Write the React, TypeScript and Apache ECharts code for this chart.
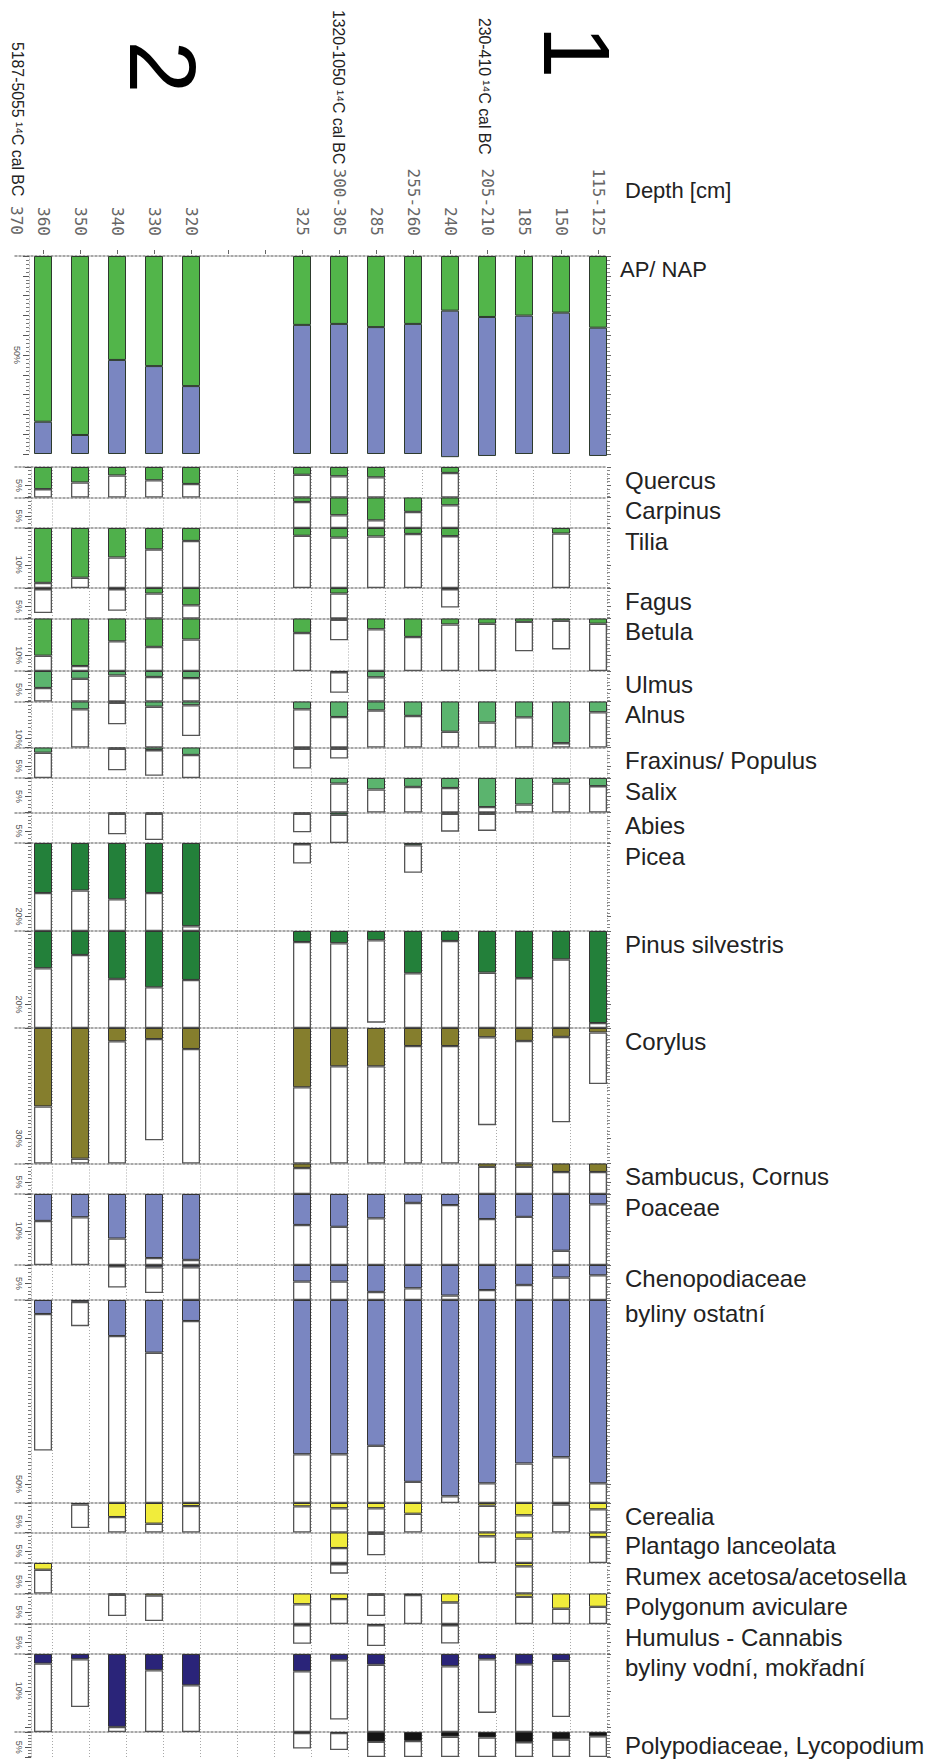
import React, { useEffect, useRef } from 'react';
import * as echarts from 'echarts';

// ---------- data ----------
const DEPTHS = ['360', '350', '340', '330', '320', '', '', '325', '300-305', '285', '255-260', '240', '205-210', '185', '150', '115-125'];
const F = 999; // exaggeration box reaching the bottom of its row
const _ = null;

const AP = [83.7, 90.4, 52.5, 55.6, 65.7, _, _, 34.8, 34.3, 35.9, 34.3, 27.6, 30.8, 30.1, 28.6, 36.2];
const NAP = [16.3, 9.6, 47.5, 44.4, 34.3, _, _, 65.2, 65.7, 64.1, 65.7, 74.0, 70.2, 69.9, 71.4, 64.8];

const QUERCUS = [6.0, 4.2, 2.3, 3.6, 4.6, _, _, 2.1, 2.5, 2.8, _, 1.6, _, _, _, _];
const QUERCUS_X = [F, F, F, F, F, _, _, F, F, F, _, F, _, _, _, _];
const CARPINUS = [_, _, _, _, _, _, _, 1.2, 4.8, 6.2, 3.9, 2.1, _, _, _, _];
const CARPINUS_X = [_, _, _, _, _, _, _, F, F, F, F, F, _, _, _, _];
const TILIA = [14.9, 13.5, 8.0, 5.8, 3.5, _, _, 2.1, 2.6, 2.3, 1.6, 2.2, _, _, 1.5, _];
const TILIA_X = [F, F, F, F, F, _, _, F, F, F, F, F, _, _, F, _];
const FAGUS = [0.3, _, 0.3, 1.5, 4.7, _, _, _, 1.5, _, _, 0.3, _, _, _, _];
const FAGUS_X = [6.8, _, 6.2, F, F, _, _, _, F, _, _, 5.3, _, _, _, _];
const BETULA = [10.1, 12.9, 6.2, 7.7, 5.7, _, _, 3.9, 0.3, 2.9, 5.0, 1.6, 1.4, 0.9, 0.6, 1.4];
const BETULA_X = [F, F, F, F, F, _, _, F, 5.9, F, F, F, F, 8.9, 8.4, F];
const ULMUS = [4.6, 2.1, 1.2, 1.6, 1.9, _, _, _, 0.3, 1.7, _, _, _, _, _, _];
const ULMUS_X = [F, F, F, F, F, _, _, _, 5.9, F, _, _, _, _, _, _];
const ALNUS = [_, 2.1, 0.3, 1.4, 1.0, _, _, 2.1, 4.2, 2.4, 3.9, 8.2, 5.7, 4.3, 11.3, 2.9];
const ALNUS_X = [_, F, 6.2, F, 9.4, _, _, F, F, F, F, F, F, F, F, F];
const FRAXINUS = [1.4, _, 0.3, 0.7, 2.0, _, _, 0.3, 0.3, _, _, _, _, _, _, _];
const FRAXINUS_X = [F, _, 6.2, 7.7, F, _, _, 5.7, 3.0, _, _, _, _, _, _, _];
const SALIX = [_, _, _, _, _, _, _, _, 1.5, 3.1, 2.4, 2.7, 7.9, 7.2, 1.5, 2.2];
const SALIX_X = [_, _, _, _, _, _, _, _, F, F, F, F, F, F, F, F];
const ABIES = [_, _, 0.3, 0.3, _, _, _, 0.3, 0.6, _, _, 0.3, 0.3, _, _, _];
const ABIES_X = [_, _, 5.9, 7.5, _, _, _, 5.4, 10.9, _, _, 5.2, 5.0, _, _, _];
const PICEA = [13.6, 12.9, 15.3, 13.6, 22.6, _, _, 0.3, _, _, 0.6, _, _, _, _, _];
const PICEA_X = [F, F, F, F, F, _, _, 5.6, _, _, 8.1, _, _, _, _, _];
const PINUS = [10.1, 6.5, 13.0, 15.3, 13.3, _, _, 3.0, 3.3, 2.5, 11.5, 2.7, 11.3, 12.8, 7.7, 25.0];
const PINUS_X = [F, F, F, F, F, _, _, F, F, 24.9, F, F, F, F, F, F];
const CORYLUS = [21.3, 35.5, 3.6, 3.0, 5.7, _, _, 16.1, 10.4, 10.4, 4.9, 4.9, 2.5, 3.5, 2.4, 1.2];
const CORYLUS_X = [F, F, F, 30.5, F, _, _, F, F, F, F, F, 26.4, F, 25.6, 15.2];
const SAMBUCUS = [_, _, _, _, _, _, _, 1.2, _, _, _, _, 0.9, 0.9, 2.3, 2.3];
const SAMBUCUS_X = [_, _, _, _, _, _, _, F, _, _, _, _, F, F, F, F];
const POACEAE = [7.3, 6.3, 12.1, 17.4, 17.9, _, _, 8.4, 8.9, 6.6, 2.4, 3.0, 6.8, 6.2, 15.4, 2.8];
const POACEAE_X = [F, F, F, F, F, _, _, F, F, F, F, F, F, F, F, F];
const CHENO = [_, _, 0.3, 0.6, 0.6, _, _, 4.5, 4.5, 7.3, 6.3, 8.3, 6.8, 5.4, 3.4, 2.8];
const CHENO_X = [_, _, 6.1, 7.6, F, _, _, F, F, F, F, F, F, F, F, F];
const BYLINY = [3.8, 0.5, 9.8, 14.3, 5.7, _, _, 41.9, 41.9, 39.6, 49.4, 53.3, 49.8, 44.4, 42.7, 49.8];
const BYLINY_X = [40.9, 7.1, F, F, F, _, _, F, F, F, F, F, F, F, F, F];
const CEREALIA = [_, 0.4, 3.8, 5.6, 0.8, _, _, 0.9, 1.4, 1.4, 2.9, _, 0.7, 3.3, 0.4, 1.7];
const CEREALIA_X = [_, 6.8, F, F, F, _, _, F, F, F, F, _, F, F, F, F];
const PLANTAGO = [_, _, _, _, _, _, _, _, 4.2, 0.3, _, _, 1.0, 1.6, _, 1.2];
const PLANTAGO_X = [_, _, _, _, _, _, _, _, F, 6.2, _, _, F, F, _, F];
const RUMEX = [1.8, _, _, _, _, _, _, _, 0.3, _, _, _, _, 0.9, _, _];
const RUMEX_X = [F, _, _, _, _, _, _, _, 2.9, _, _, _, _, F, _, _];
const POLYGONUM = [_, _, 0.3, 0.5, _, _, _, 2.9, 1.5, 0.3, 0.4, 2.4, _, 0.9, 4.1, 3.6];
const POLYGONUM_X = [_, _, 6.1, 7.5, _, _, _, F, F, 6.1, F, F, _, F, F, F];
const HUMULUS = [_, _, _, _, _, _, _, 0.3, _, 0.3, _, 0.3, _, _, _, _];
const HUMULUS_X = [_, _, _, _, _, _, _, 5.4, _, 6.0, _, 5.3, _, _, _, _];
const VODNI = [2.6, 1.4, 19.8, 4.4, 8.5, _, _, 4.7, 1.7, 2.9, _, 3.3, 1.4, 2.8, 1.8, _];
const VODNI_X = [F, 14.4, F, F, F, _, _, F, 17.8, F, _, F, 16.0, F, 17.1, _];
const POLYPOD = [_, _, _, _, _, _, _, 0.3, 0.3, 3.2, 2.9, 1.5, 1.8, 3.3, 2.4, 1.4];
const POLYPOD_X = [_, _, _, _, _, _, _, 5.4, 5.9, F, F, F, F, F, F, F];

// ---------- layout / style ----------
const C_GREEN = '#4fb04b';
const C_LGREEN = '#5bb46e';
const C_DGREEN = '#23803a';
const C_OLIVE = '#857e2d';
const C_BLUE = '#7a86c1';
const C_YELLOW = '#f1ec3b';
const C_NAVY = '#2a2479';
const C_BLACK = '#141414';

const ROWS = [
  { label: 'Quercus', v: QUERCUS, x: QUERCUS_X, color: C_GREEN, h: 30.5, tick: 5 },
  { label: 'Carpinus', v: CARPINUS, x: CARPINUS_X, color: C_GREEN, h: 30.5, tick: 5 },
  { label: 'Tilia', v: TILIA, x: TILIA_X, color: C_GREEN, h: 60, tick: 10 },
  { label: 'Fagus', v: FAGUS, x: FAGUS_X, color: C_GREEN, h: 30.5, tick: 5 },
  { label: 'Betula', v: BETULA, x: BETULA_X, color: C_GREEN, h: 52.5, tick: 10 },
  { label: 'Ulmus', v: ULMUS, x: ULMUS_X, color: C_LGREEN, h: 30.5, tick: 5 },
  { label: 'Alnus', v: ALNUS, x: ALNUS_X, color: C_LGREEN, h: 46, tick: 10 },
  { label: 'Fraxinus/ Populus', v: FRAXINUS, x: FRAXINUS_X, color: C_LGREEN, h: 30.5, tick: 5 },
  { label: 'Salix', v: SALIX, x: SALIX_X, color: C_LGREEN, h: 34.5, tick: 5 },
  { label: 'Abies', v: ABIES, x: ABIES_X, color: C_DGREEN, h: 30.5, tick: 5 },
  { label: 'Picea', v: PICEA, x: PICEA_X, color: C_DGREEN, h: 88, tick: 20 },
  { label: 'Pinus silvestris', v: PINUS, x: PINUS_X, color: C_DGREEN, h: 97, tick: 20 },
  { label: 'Corylus', v: CORYLUS, x: CORYLUS_X, color: C_OLIVE, h: 135.5, tick: 30 },
  { label: 'Sambucus, Cornus', v: SAMBUCUS, x: SAMBUCUS_X, color: C_OLIVE, h: 30.5, tick: 5 },
  { label: 'Poaceae', v: POACEAE, x: POACEAE_X, color: C_BLUE, h: 71, tick: 10 },
  { label: 'Chenopodiaceae', v: CHENO, x: CHENO_X, color: C_BLUE, h: 35, tick: 5 },
  { label: 'byliny ostatní', v: BYLINY, x: BYLINY_X, color: C_BLUE, h: 203, tick: 50 },
  { label: 'Cerealia', v: CEREALIA, x: CEREALIA_X, color: C_YELLOW, h: 29.5, tick: 5 },
  { label: 'Plantago lanceolata', v: PLANTAGO, x: PLANTAGO_X, color: C_YELLOW, h: 30.5, tick: 5 },
  { label: 'Rumex acetosa/acetosella', v: RUMEX, x: RUMEX_X, color: C_YELLOW, h: 30.5, tick: 5 },
  { label: 'Polygonum aviculare', v: POLYGONUM, x: POLYGONUM_X, color: C_YELLOW, h: 30.5, tick: 5 },
  { label: 'Humulus - Cannabis', v: HUMULUS, x: HUMULUS_X, color: '#333333', h: 30, tick: 5 },
  { label: 'byliny vodní, mokřadní', v: VODNI, x: VODNI_X, color: C_NAVY, h: 78, tick: 10 },
  { label: 'Polypodiaceae, Lycopodium', v: POLYPOD, x: POLYPOD_X, color: C_BLACK, h: 30, tick: 5 },
];

const PX = 3.68; // pixels per percent in taxon rows
const GRID_LEFT = 15;
const GRID_RIGHT = 943 - 607;
const AP_TOP = 256;
const AP_H = 198;
const ROW_START = 467;
const LABEL_X = 625;
const CATS = ['', ...DEPTHS];
const SANS = '"Liberation Sans", Arial, Helvetica, sans-serif';
const MONO = '"DejaVu Sans Mono", monospace';

function buildOption() {
  const grid: any[] = [];
  const xAxis: any[] = [];
  const yAxis: any[] = [];
  const series: any[] = [];
  const graphic: any[] = [];

  // header grid (depth labels)
  grid.push({ left: 43, right: 943 - 598, top: 253, height: 1 });
  xAxis.push({
    gridIndex: 0, type: 'category', data: DEPTHS, boundaryGap: false, position: 'top',
    axisLine: { show: false },
    axisTick: { show: true, length: 4, interval: 0, lineStyle: { color: '#666' } },
    axisLabel: { interval: 0, rotate: -90, margin: 17, fontSize: 16, fontFamily: MONO, color: '#666' },
    splitLine: { show: false },
  });
  yAxis.push({ gridIndex: 0, type: 'value', show: false });

  const dividerLine = { show: true, lineStyle: { color: '#8c8c8c', width: 1.5, type: [2, 2] } };
  const vLine = { show: true, interval: (i: number) => i > 0, lineStyle: { color: '#a8a8a8', width: 1, type: [1, 2] } };

  const addRow = (g: number, top: number, h: number, max: number, tick: number, labelAt: number, minorSplit: number, withSplit: boolean, offsetL: number) => {
    grid.push({ left: GRID_LEFT, right: GRID_RIGHT, top, height: h });
    xAxis.push({
      gridIndex: g, type: 'category', data: CATS, boundaryGap: false, position: 'top',
      axisLine: dividerLine, axisTick: { show: false }, axisLabel: { show: false },
      splitLine: withSplit ? vLine : { show: false },
    });
    yAxis.push({
      gridIndex: g, type: 'value', inverse: true, min: 0, max, interval: tick, position: 'left', offset: offsetL,
      axisLine: { show: true, lineStyle: { color: '#b0b0b0', type: [1, 2] } },
      axisTick: { show: true, length: 6, lineStyle: { color: '#555' } },
      minorTick: { show: true, splitNumber: minorSplit, length: 3, lineStyle: { color: '#777' } },
      axisLabel: {
        formatter: (val: number) => (Math.abs(val - labelAt) < 1e-6 ? `${val}%` : ''),
        rotate: -90, fontSize: 9, color: '#555', margin: 8, fontFamily: SANS,
      },
      splitLine: { show: false },
    });
    yAxis.push({
      gridIndex: g, type: 'value', inverse: true, min: 0, max, interval: tick, position: 'right',
      axisLine: { show: false },
      axisTick: { show: true, length: 4, lineStyle: { color: '#666' } },
      minorTick: { show: true, splitNumber: minorSplit, length: 3, lineStyle: { color: '#888' } },
      axisLabel: { show: false },
      splitLine: { show: false },
    });
  };

  const barBase = (g: number, yi: number) => ({
    type: 'bar', xAxisIndex: g, yAxisIndex: yi, barWidth: 18, barGap: '0%', clip: false, silent: true,
  });

  // AP / NAP row
  let g = 1;
  let yi = 1;
  addRow(g, AP_TOP, AP_H, 100, 10, 50, 5, false, -14);
  series.push({ ...barBase(g, yi), name: 'AP', stack: 'ap', data: [null, ...AP], itemStyle: { color: '#52b54a', borderColor: '#2d3a2d', borderWidth: 1 } });
  series.push({ ...barBase(g, yi), name: 'NAP', stack: 'ap', data: [null, ...NAP], itemStyle: { color: C_BLUE, borderColor: '#2d3a2d', borderWidth: 1 } });
  series.push({ ...barBase(g, yi), name: 'ap-pad', stack: 'ap-pad', data: CATS.map(() => null) });
  graphic.push({ type: 'text', x: 620, y: AP_TOP + 13, style: { text: 'AP/ NAP', fontSize: 22, fontFamily: SANS, fill: '#222', verticalAlign: 'middle' } });

  // taxon rows
  let top = ROW_START;
  ROWS.forEach((r, i) => {
    g = i + 2;
    yi = 1 + (i + 1) * 2;
    const max = r.h / PX;
    addRow(g, top, r.h, max, r.tick, r.tick, r.tick, true, -16);
    const whites = r.x.map((e, j) => (e == null ? null : Math.min(e, max) - (r.v[j] ?? 0)));
    series.push({ ...barBase(g, yi), name: r.label, stack: 's' + g, data: [null, ...r.v], itemStyle: { color: r.color, borderColor: '#333', borderWidth: 1 } });
    series.push({ ...barBase(g, yi), name: r.label + ' x', stack: 's' + g, data: [null, ...whites], itemStyle: { color: '#ffffff', borderColor: '#555', borderWidth: 1.3 } });
    series.push({ ...barBase(g, yi), name: r.label + ' pad', stack: 'p' + g, data: CATS.map(() => null) });
    graphic.push({ type: 'text', x: LABEL_X, y: top + 13, style: { text: r.label, fontSize: 24, fontFamily: SANS, fill: '#222', verticalAlign: 'middle' } });
    top += r.h;
  });

  // header texts (rotated clockwise, reading top to bottom)
  const dateText = (x: number, y: number, range: string) => ({
    type: 'text', x, y, rotation: -Math.PI / 2,
    style: { text: `${range} ¹⁴C cal BC`, fontSize: 15.8, fontFamily: SANS, fill: '#222', align: 'left', verticalAlign: 'middle' },
  });
  graphic.push(dateText(17, 42, '5187-5055'));
  graphic.push(dateText(338, 10, '1320-1050'));
  graphic.push(dateText(484, 18, '230-410'));
  graphic.push({
    type: 'text', x: 16, y: 235, rotation: -Math.PI / 2,
    style: { text: '370', fontSize: 16, fontFamily: MONO, fill: '#666', align: 'right', verticalAlign: 'middle' },
  });
  graphic.push({
    type: 'text', x: 163, y: 67, rotation: -Math.PI / 2,
    style: { text: '2', fontSize: 95, fontFamily: SANS, fill: '#000', align: 'center', verticalAlign: 'middle' },
  });
  graphic.push({
    type: 'text', x: 577, y: 52, rotation: -Math.PI / 2,
    style: { text: '1', fontSize: 95, fontFamily: SANS, fill: '#000', align: 'center', verticalAlign: 'middle' },
  });
  graphic.push({ type: 'text', x: 625, y: 190, style: { text: 'Depth [cm]', fontSize: 22, fontFamily: SANS, fill: '#222', verticalAlign: 'middle' } });

  return {
    animation: false,
    backgroundColor: '#ffffff',
    grid, xAxis, yAxis, series, graphic,
  };
}

export default function App() {
  const ref = useRef<HTMLDivElement>(null);
  useEffect(() => {
    if (!ref.current) return;
    const chart = echarts.init(ref.current, undefined, { renderer: 'svg' });
    chart.setOption(buildOption() as any);
    return () => chart.dispose();
  }, []);
  return <div ref={ref} style={{ position: 'absolute', left: 0, top: 0, width: 943, height: 1760 }} />;
}
